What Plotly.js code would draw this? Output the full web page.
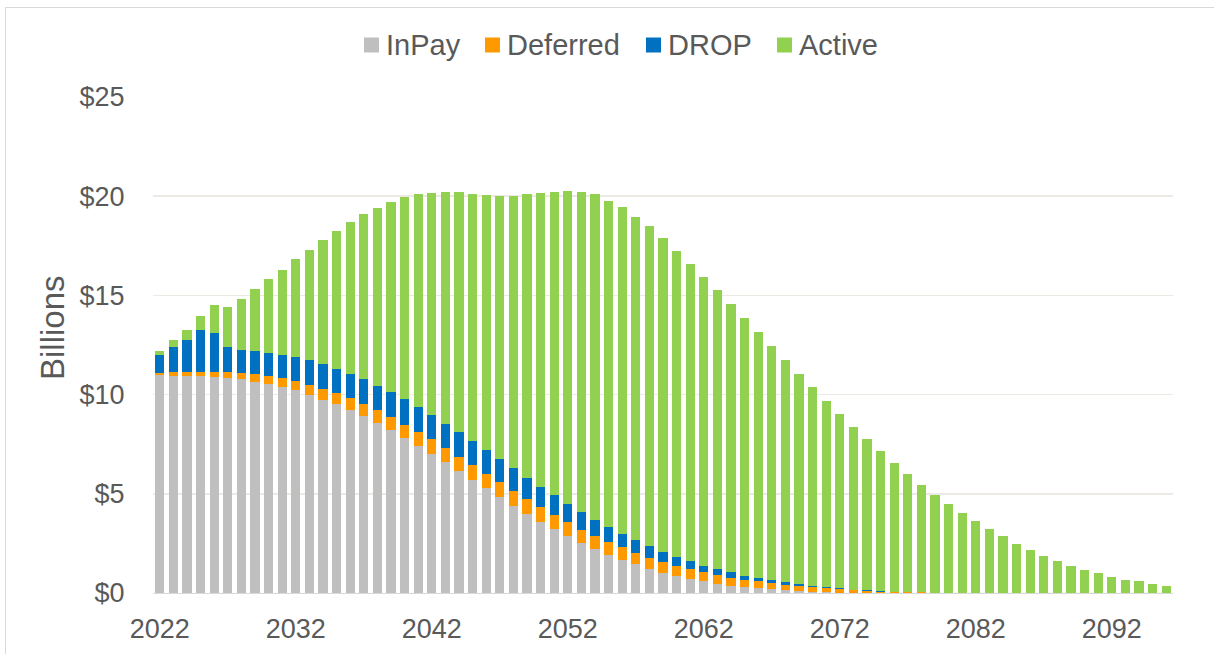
<!DOCTYPE html>
<html>
<head>
<meta charset="utf-8">
<script src="https://cdn.plot.ly/plotly-3.0.1.min.js"></script>
<style>
  html, body { margin: 0; padding: 0; background: #ffffff; }
  #chart { position: absolute; left: 0; top: 0; width: 1214px; height: 654px; }
  #frame { position: absolute; left: 5px; top: 7px; width: 1240px; height: 700px;
           border: 1px solid #D9D9D9; pointer-events: none; }
</style>
</head>
<body>
<div id="chart"></div>
<div id="frame"></div>
<script>
const years = [];
for (let y = 2022; y <= 2096; y++) years.push(y);

const inPay = [10.99,10.95,10.95,10.94,10.89,10.84,10.77,10.64,10.52,10.39,
  10.22,9.98,9.75,9.52,9.23,8.91,8.58,8.21,7.82,7.42,
  7.00,6.58,6.17,5.71,5.28,4.82,4.41,3.99,3.60,3.22,
  2.86,2.53,2.21,1.93,1.68,1.44,1.21,1.03,0.87,0.72,
  0.60,0.46,0.37,0.28,0.23,0.18,0.13,0.08,0.05,0.03,
  0.02,0.01,0.01,0,0,0,0,0,0,0,
  0,0,0,0,0,0,0,0,0,0,
  0,0,0,0,0];

const deferred = [0.09,0.18,0.21,0.22,0.27,0.30,0.32,0.38,0.40,0.43,
  0.46,0.51,0.54,0.55,0.59,0.62,0.62,0.65,0.67,0.69,
  0.74,0.74,0.70,0.76,0.74,0.78,0.75,0.73,0.72,0.72,
  0.71,0.67,0.67,0.63,0.62,0.57,0.57,0.55,0.51,0.49,
  0.44,0.45,0.40,0.39,0.36,0.31,0.29,0.27,0.25,0.20,
  0.16,0.12,0.09,0.07,0.05,0.04,0.03,0,0,0,
  0,0,0,0,0,0,0,0,0,0,
  0,0,0,0,0];

const drop = [0.92,1.25,1.60,2.11,1.94,1.24,1.16,1.16,1.19,1.18,
  1.20,1.24,1.25,1.23,1.24,1.26,1.25,1.28,1.28,1.27,
  1.24,1.22,1.26,1.20,1.18,1.13,1.12,1.09,1.04,0.98,
  0.94,0.89,0.82,0.76,0.68,0.65,0.57,0.50,0.43,0.40,
  0.34,0.28,0.29,0.20,0.16,0.16,0.13,0.10,0.07,0.07,
  0.05,0.03,0.03,0.02,0.02,0.01,0.01,0,0,0,
  0,0,0,0,0,0,0,0,0,0,
  0,0,0,0,0];

const active = [0.20,0.35,0.49,0.68,1.44,2.06,2.59,3.13,3.72,4.30,
  4.94,5.56,6.25,6.96,7.63,8.29,8.95,9.58,10.20,10.71,
  11.17,11.65,12.07,12.45,12.85,13.27,13.75,14.29,14.79,15.27,
  15.73,16.10,16.39,16.46,16.47,16.27,16.13,15.81,15.43,14.99,
  14.55,14.07,13.51,12.99,12.40,11.80,11.19,10.59,10.00,9.38,
  8.77,8.20,7.61,7.05,6.48,5.95,5.42,4.96,4.48,4.04,
  3.61,3.21,2.85,2.48,2.18,1.89,1.63,1.38,1.18,1.01,
  0.83,0.68,0.58,0.47,0.37];

const yTickVals = [0, 5, 10, 15, 20, 25];
const yTickText = ['$0', '$5', '$10', '$15', '$20', '$25'];
const xTickVals = [2022, 2032, 2042, 2052, 2062, 2072, 2082, 2092];

const seriesNames = ['InPay', 'Deferred', 'DROP', 'Active'];
const seriesData = [inPay, deferred, drop, active];
const seriesColors = ['#BFBFBF', '#FF9900', '#0070C0', '#92D050'];

const traces = seriesNames.map((n, i) => ({
  type: 'bar',
  name: n,
  x: years,
  y: seriesData[i],
  marker: { color: seriesColors[i], line: { width: 0 } },
  hoverinfo: 'x+y+name'
}));

const font = 'Liberation Sans, Arial, sans-serif';

// plot-area geometry (pixels) used to place the custom legend
const PL = 153, PW = 1020, PB = 593, PH = 496;
const px2x = p => (p - PL) / PW;
const px2y = p => (PB - p) / PH;

// legend layout in pixels: square left edge for each entry
const legendSquareLeft = [364, 485, 646, 777];
const legendSq = 15, legendCy = 45, legendTextGap = 7;

const shapes = [];
const annotations = [];
seriesNames.forEach((n, i) => {
  const x0 = legendSquareLeft[i];
  shapes.push({
    type: 'rect', xref: 'paper', yref: 'paper',
    x0: px2x(x0), x1: px2x(x0 + legendSq),
    y0: px2y(legendCy + legendSq / 2), y1: px2y(legendCy - legendSq / 2),
    fillcolor: seriesColors[i], line: { width: 0 }
  });
  annotations.push({
    text: n, xref: 'paper', yref: 'paper',
    x: px2x(x0 + legendSq + legendTextGap), y: px2y(legendCy),
    xanchor: 'left', yanchor: 'middle', showarrow: false,
    xshift: -2,
    font: { family: font, size: 29, color: '#595959' }
  });
});

annotations.push({
  text: 'Billions',
  xref: 'paper', yref: 'paper',
  x: px2x(52), y: px2y(328),
  xanchor: 'center', yanchor: 'middle',
  textangle: -90,
  showarrow: false,
  font: { family: font, size: 33, color: '#595959' }
});

const layout = {
  width: 1214,
  height: 654,
  barmode: 'stack',
  bargap: 0.31,
  paper_bgcolor: 'rgba(0,0,0,0)',
  plot_bgcolor: '#ffffff',
  margin: { l: 153, r: 41, t: 97, b: 61 },
  font: { family: font, color: '#595959', size: 27 },
  showlegend: false,
  xaxis: {
    range: [2021.5, 2096.5],
    tickmode: 'array',
    tickvals: xTickVals,
    ticktext: xTickVals.map(String),
    ticks: 'outside', ticklen: 12, tickcolor: 'rgba(0,0,0,0)',
    showgrid: false,
    showline: true, linecolor: '#D9D9D9', linewidth: 1,
    zeroline: false,
    tickfont: { family: font, size: 27, color: '#595959' }
  },
  yaxis: {
    range: [0, 25],
    tickmode: 'array',
    tickvals: yTickVals,
    ticktext: yTickText,
    ticks: 'outside', ticklen: 22, tickcolor: 'rgba(0,0,0,0)',
    showgrid: true, gridcolor: '#ECEAE2', gridwidth: 1.5,
    zeroline: false,
    showline: false,
    tickfont: { family: font, size: 27, color: '#595959' }
  },
  shapes: shapes,
  annotations: annotations
};

Plotly.newPlot('chart', traces, layout, { displayModeBar: false, staticPlot: true });
</script>
</body>
</html>
